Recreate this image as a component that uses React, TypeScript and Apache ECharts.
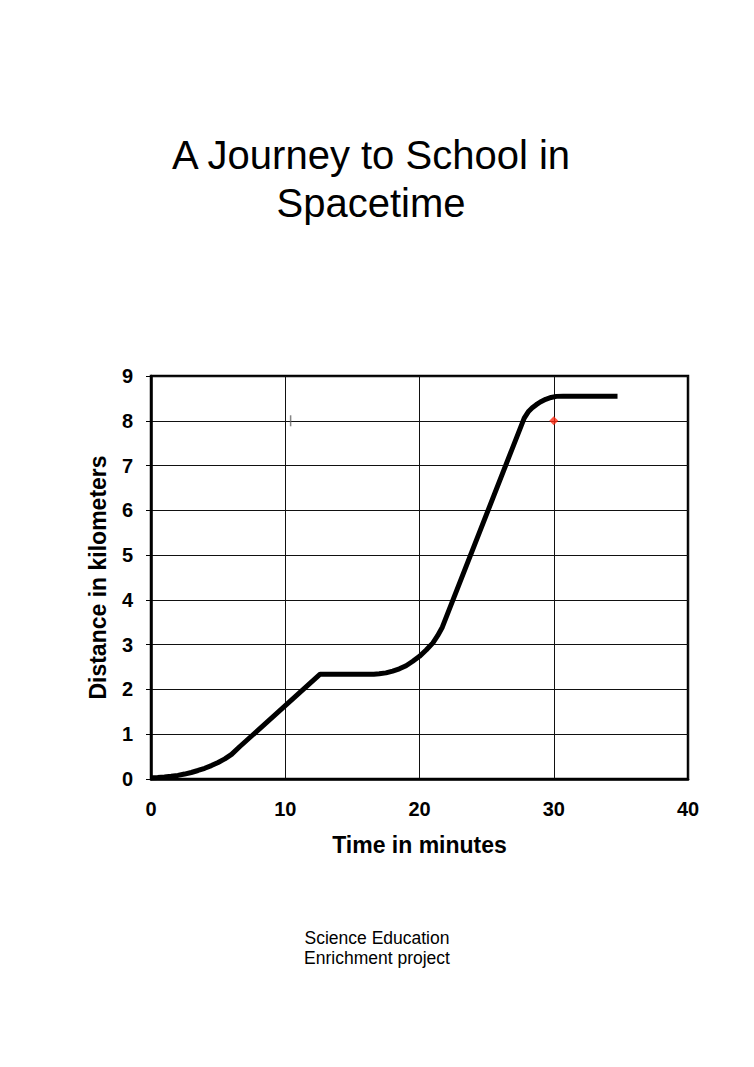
import React, { useEffect, useRef } from "react";
import * as echarts from "echarts";

const timeMinutes = [0, 0.5, 1, 1.5, 2, 2.5, 3, 3.5, 4, 4.5, 5, 5.5, 6, 6.6, 12.6, 16.6, 17, 17.5, 18, 18.5, 19, 19.5, 20, 20.5, 21, 21.35, 21.7, 27.8, 28.1, 28.4, 28.7, 29, 29.4, 29.8, 30.2, 30.7, 34.75];
const distanceKm = [0.03, 0.035, 0.045, 0.06, 0.08, 0.11, 0.145, 0.19, 0.24, 0.3, 0.37, 0.45, 0.55, 0.72, 2.34, 2.34, 2.35, 2.37, 2.41, 2.46, 2.53, 2.63, 2.74, 2.88, 3.04, 3.2, 3.39, 8.06, 8.2, 8.29, 8.36, 8.42, 8.48, 8.52, 8.545, 8.55, 8.55];
const redPoint = [30, 8];
const tickMark = [10.4, 8];
const xTicks = [0, 10, 20, 30, 40];
const yTicks = [0, 1, 2, 3, 4, 5, 6, 7, 8, 9];

const FONT = "'Liberation Sans', Arial, sans-serif";

export default function App() {
  const ref = useRef<HTMLDivElement>(null);
  useEffect(() => {
    document.body.style.margin = "0";
    const chart = echarts.init(ref.current!, null, { renderer: "svg" });
    chart.setOption({
      animation: false,
      backgroundColor: "#fff",
      title: [
        {
          text: "A Journey to School in\nSpacetime",
          left: 366,
          top: 126,
          textAlign: "center",
          textStyle: { fontFamily: FONT, fontSize: 40, fontWeight: "normal", color: "#000", lineHeight: 48 },
        },
        {
          text: "Science Education\nEnrichment project",
          left: 372,
          top: 923,
          textAlign: "center",
          textStyle: { fontFamily: FONT, fontSize: 17.5, fontWeight: "normal", color: "#000", lineHeight: 20 },
        },
      ],
      grid: {
        left: 151,
        right: 66,
        top: 376,
        bottom: 288,
        show: true,
        borderColor: "#000",
        borderWidth: 2.5,
        backgroundColor: "transparent",
      },
      xAxis: {
        type: "value",
        min: xTicks[0],
        max: xTicks[xTicks.length - 1],
        interval: 10,
        name: "Time in minutes",
        nameLocation: "middle",
        nameGap: 54,
        nameTextStyle: { fontFamily: FONT, fontSize: 23, fontWeight: "bold", color: "#000" },
        axisLine: { show: true, lineStyle: { color: "#000", width: 2.5 } },
        axisTick: { show: false },
        axisLabel: { fontFamily: FONT, fontSize: 20, fontWeight: "bold", color: "#000", margin: 20 },
        splitLine: { show: true, lineStyle: { color: "#111", width: 1 } },
      },
      yAxis: {
        type: "value",
        min: yTicks[0],
        max: yTicks[yTicks.length - 1],
        interval: 1,
        name: "Distance in kilometers",
        nameLocation: "middle",
        nameGap: 42,
        nameTextStyle: { fontFamily: FONT, fontSize: 23, fontWeight: "bold", color: "#000" },
        axisLine: { show: true, lineStyle: { color: "#000", width: 2.5 } },
        axisTick: { show: true, inside: false, length: 5, lineStyle: { color: "#000", width: 1 } },
        axisLabel: { fontFamily: FONT, fontSize: 20, fontWeight: "bold", color: "#000", margin: 18 },
        splitLine: { show: true, lineStyle: { color: "#111", width: 1 } },
      },
      series: [
        {
          type: "line",
          data: timeMinutes.map((t, i) => [t, distanceKm[i]]),
          showSymbol: false,
          smooth: false,
          lineStyle: { color: "#000", width: 5, cap: "butt", join: "round" },
          z: 3,
        },
        {
          type: "scatter",
          data: [redPoint],
          symbol: "diamond",
          symbolSize: 9,
          itemStyle: { color: "#ff2a12" },
          z: 4,
        },
        {
          type: "scatter",
          data: [tickMark],
          symbol: "rect",
          symbolSize: [1.5, 11],
          itemStyle: { color: "#666" },
          z: 4,
        },
      ],
    });
    return () => chart.dispose();
  }, []);
  return <div ref={ref} style={{ width: 754, height: 1067 }} />;
}
